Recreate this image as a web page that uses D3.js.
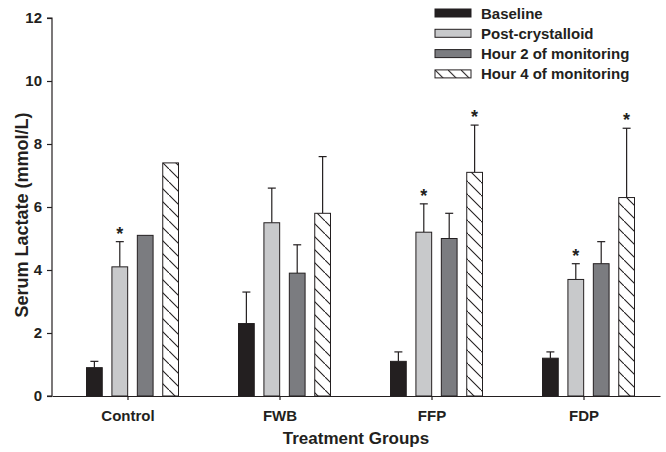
<!DOCTYPE html>
<html>
<head>
<meta charset="utf-8">
<script src="https://cdn.jsdelivr.net/npm/d3@7"></script>
<style>
  body { margin: 0; background: #fff; }
  text { font-family: "Liberation Sans", Arial, sans-serif; font-weight: bold; fill: #231f20; }
</style>
</head>
<body>
<svg width="666" height="452"></svg>
<script>
const groups = ["Control", "FWB", "FFP", "FDP"];
const series = ["Baseline", "Post-crystalloid", "Hour 2 of monitoring", "Hour 4 of monitoring"];
// mean values per group, in series order
const means = [
  [0.9, 4.1, 5.1, 7.4],
  [2.3, 5.5, 3.9, 5.8],
  [1.1, 5.2, 5.0, 7.1],
  [1.2, 3.7, 4.2, 6.3]
];
// top of error bar (null = none)
const errTops = [
  [1.1, 4.9, null, null],
  [3.3, 6.6, 4.8, 7.6],
  [1.4, 6.1, 5.8, 8.6],
  [1.4, 4.2, 4.9, 8.5]
];
const stars = [
  [false, true, false, false],
  [false, false, false, false],
  [false, true, false, true],
  [false, true, false, true]
];
const yTicks = [0, 2, 4, 6, 8, 10, 12];

const svg = d3.select("svg");
const defs = svg.append("defs");
const P = 13;
const pat = defs.append("pattern")
  .attr("id", "hatch")
  .attr("patternUnits", "userSpaceOnUse")
  .attr("width", P).attr("height", P);
pat.append("rect").attr("width", P).attr("height", P).attr("fill", "#fff");
pat.append("path")
  .attr("d", `M-1,-1 L${P + 1},${P + 1} M-4,${P - 3} L3,${P + 4} M${P - 3},-4 L${P + 4},3`)
  .attr("stroke", "#231f20").attr("stroke-width", 1.1);

const fills = ["#231f20", "#c8c9cb", "#7b7c80", "url(#hatch)"];

const x0 = 52, x1 = 660, yTop = 18, yBot = 396;
const x = d3.scaleBand().domain(groups).range([x0, x1]);
const xs = d3.scaleBand().domain(series).range([-41.5, 50.5]).paddingInner(0.38).paddingOuter(0);
const y = d3.scaleLinear().domain([0, 12]).range([yBot, yTop]);

// bars
const g = svg.append("g");
groups.forEach((grp, gi) => {
  series.forEach((s, si) => {
    const bx = x(grp) + x.bandwidth() / 2 + xs(s);
    const bw = xs.bandwidth();
    const cx = bx + bw / 2;
    if (errTops[gi][si] !== null) {
      g.append("line")
        .attr("x1", cx).attr("x2", cx)
        .attr("y1", y(means[gi][si])).attr("y2", y(errTops[gi][si]))
        .attr("stroke", "#231f20").attr("stroke-width", 1.2);
      g.append("line")
        .attr("x1", cx - 4).attr("x2", cx + 4)
        .attr("y1", y(errTops[gi][si])).attr("y2", y(errTops[gi][si]))
        .attr("stroke", "#231f20").attr("stroke-width", 1.2);
    }
    g.append("rect")
      .attr("x", bx).attr("y", y(means[gi][si]))
      .attr("width", bw).attr("height", y(0) - y(means[gi][si]))
      .attr("fill", fills[si])
      .attr("stroke", "#231f20").attr("stroke-width", 1);
    if (stars[gi][si]) {
      const top = errTops[gi][si] !== null ? errTops[gi][si] : means[gi][si];
      g.append("text")
        .attr("x", cx).attr("y", y(top) - 2)
        .attr("text-anchor", "middle")
        .attr("font-size", 18)
        .text("*");
    }
  });
});

// axes
const yAxis = svg.append("g")
  .attr("transform", `translate(${x0},0)`)
  .call(d3.axisLeft(y).tickValues(yTicks).tickSize(5).tickPadding(5));
const xAxis = svg.append("g")
  .attr("transform", `translate(0,${yBot})`)
  .call(d3.axisBottom(x).tickSize(4).tickSizeOuter(0).tickPadding(10));
[yAxis, xAxis].forEach(a => {
  a.select(".domain").attr("stroke", "#231f20").attr("stroke-width", 1.2);
  a.selectAll(".tick line").attr("stroke", "#231f20").attr("stroke-width", 1.2);
  a.selectAll(".tick text").attr("font-size", 15).attr("fill", "#231f20")
    .attr("font-family", "Liberation Sans, Arial, sans-serif").attr("font-weight", "bold");
});
yAxis.select(".domain").attr("d", `M-5,${yBot}H0V${yTop}H-5`);

// axis titles
svg.append("text")
  .attr("transform", `translate(28,215) rotate(-90)`)
  .attr("text-anchor", "middle")
  .attr("font-size", 18)
  .text("Serum Lactate (mmol/L)");
svg.append("text")
  .attr("x", (x0 + x1) / 2).attr("y", 444)
  .attr("text-anchor", "middle")
  .attr("font-size", 17)
  .text("Treatment Groups");

// legend
const leg = svg.append("g").attr("transform", "translate(435,9)");
series.forEach((s, i) => {
  const row = leg.append("g").attr("transform", `translate(0,${i * 20.3})`);
  row.append("rect")
    .attr("width", 36).attr("height", 8)
    .attr("fill", fills[i])
    .attr("stroke", "#231f20").attr("stroke-width", 1);
  row.append("text")
    .attr("x", 46).attr("y", 9.5)
    .attr("font-size", 15)
    .text(s);
});
</script>
</body>
</html>
